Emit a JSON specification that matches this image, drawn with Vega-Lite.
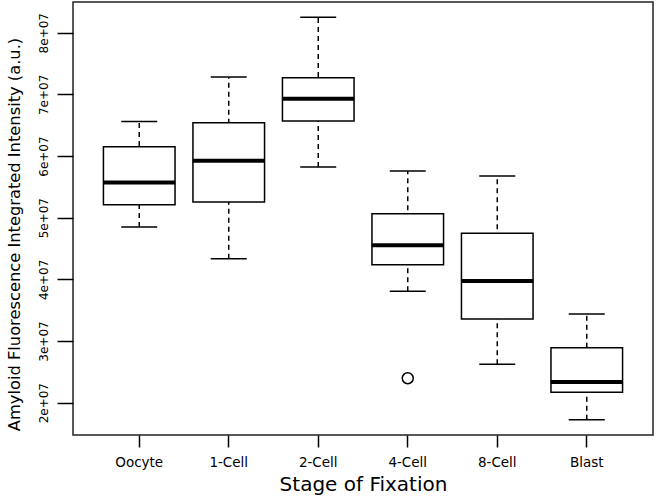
{
  "$schema": "https://vega.github.io/schema/vega-lite/v6.json",
  "width": 580,
  "height": 433,
  "autosize": {"type": "none"},
  "padding": {"left": 73, "top": 2, "right": 4, "bottom": 61},
  "background": "white",
  "config": {
    "view": {"stroke": "#222222", "strokeWidth": 1.5},
    "font": "DejaVu Sans"
  },
  "datasets": {
    "stats": [
      {"stage": "Oocyte", "lower": 48500000, "q1": 52100000, "median": 55700000, "q3": 61500000, "upper": 65600000},
      {"stage": "1-Cell", "lower": 43350000, "q1": 52550000, "median": 59240000, "q3": 65410000, "upper": 72820000},
      {"stage": "2-Cell", "lower": 58220000, "q1": 65680000, "median": 69300000, "q3": 72700000, "upper": 82490000},
      {"stage": "4-Cell", "lower": 38060000, "q1": 42380000, "median": 45520000, "q3": 50650000, "upper": 57570000},
      {"stage": "8-Cell", "lower": 26230000, "q1": 33570000, "median": 39740000, "q3": 47470000, "upper": 56760000},
      {"stage": "Blast", "lower": 17250000, "q1": 21690000, "median": 23360000, "q3": 28920000, "upper": 34390000}
    ],
    "outliers": [
      {"stage": "4-Cell", "value": 23960000}
    ]
  },
  "layer": [
    {
      "data": {"name": "stats"},
      "mark": {"type": "rule", "strokeDash": [5, 4], "strokeWidth": 1.5, "color": "black"},
      "encoding": {
        "x": {
          "field": "stage", "type": "nominal", "title": "Stage of Fixation",
          "scale": {"domain": ["Oocyte", "1-Cell", "2-Cell", "4-Cell", "8-Cell", "Blast"], "paddingInner": 0.2, "paddingOuter": 0.34},
          "axis": {
            "labelAngle": 0, "labelFontSize": 13.5, "labelColor": "black", "labelPadding": 8,
            "tickSize": 12, "tickWidth": 1.5, "tickColor": "black", "domain": false,
            "titleFontSize": 20, "titleFontWeight": "normal", "titleColor": "black",
            "titleBaseline": "top", "titleY": 39
          }
        },
        "y": {
          "field": "lower", "type": "quantitative", "title": "Amyloid Fluorescence Integrated Intensity (a.u.)",
          "scale": {"domain": [14760000, 84980000], "nice": false, "zero": false},
          "axis": {
            "values": [20000000, 30000000, 40000000, 50000000, 60000000, 70000000, 80000000],
            "labelExpr": "format(datum.value / 10000000, 'd') + 'e+07'",
            "labelAngle": -90, "labelAlign": "center", "labelBaseline": "bottom",
            "labelFontSize": 12, "labelColor": "black", "labelPadding": 7,
            "tickSize": 16, "tickWidth": 1.5, "tickColor": "black", "domain": false, "grid": false,
            "titleFontSize": 16.3, "titleFontWeight": "normal", "titleColor": "black",
            "titleAngle": -90, "titleBaseline": "bottom", "titleX": -51, "titleY": 232
          }
        },
        "y2": {"field": "upper"}
      }
    },
    {
      "data": {"name": "stats"},
      "mark": {"type": "bar", "fill": "white", "stroke": "black", "strokeWidth": 1.5},
      "encoding": {
        "x": {"field": "stage", "type": "nominal", "title": "Stage of Fixation"},
        "y": {"field": "q1", "type": "quantitative", "title": "Amyloid Fluorescence Integrated Intensity (a.u.)"},
        "y2": {"field": "q3"}
      }
    },
    {
      "data": {"name": "stats"},
      "mark": {"type": "tick", "size": 36, "thickness": 1.5, "color": "black", "opacity": 1},
      "encoding": {
        "x": {"field": "stage", "type": "nominal", "title": "Stage of Fixation"},
        "y": {"field": "lower", "type": "quantitative", "title": "Amyloid Fluorescence Integrated Intensity (a.u.)"}
      }
    },
    {
      "data": {"name": "stats"},
      "mark": {"type": "tick", "size": 36, "thickness": 1.5, "color": "black", "opacity": 1},
      "encoding": {
        "x": {"field": "stage", "type": "nominal", "title": "Stage of Fixation"},
        "y": {"field": "upper", "type": "quantitative", "title": "Amyloid Fluorescence Integrated Intensity (a.u.)"}
      }
    },
    {
      "data": {"name": "stats"},
      "mark": {"type": "tick", "size": 72, "thickness": 4, "color": "black", "opacity": 1},
      "encoding": {
        "x": {"field": "stage", "type": "nominal", "title": "Stage of Fixation"},
        "y": {"field": "median", "type": "quantitative", "title": "Amyloid Fluorescence Integrated Intensity (a.u.)"}
      }
    },
    {
      "data": {"name": "outliers"},
      "mark": {"type": "point", "shape": "circle", "filled": false, "stroke": "black", "strokeWidth": 1.5, "size": 120, "opacity": 1},
      "encoding": {
        "x": {"field": "stage", "type": "nominal", "title": "Stage of Fixation"},
        "y": {"field": "value", "type": "quantitative", "title": "Amyloid Fluorescence Integrated Intensity (a.u.)"}
      }
    }
  ]
}
